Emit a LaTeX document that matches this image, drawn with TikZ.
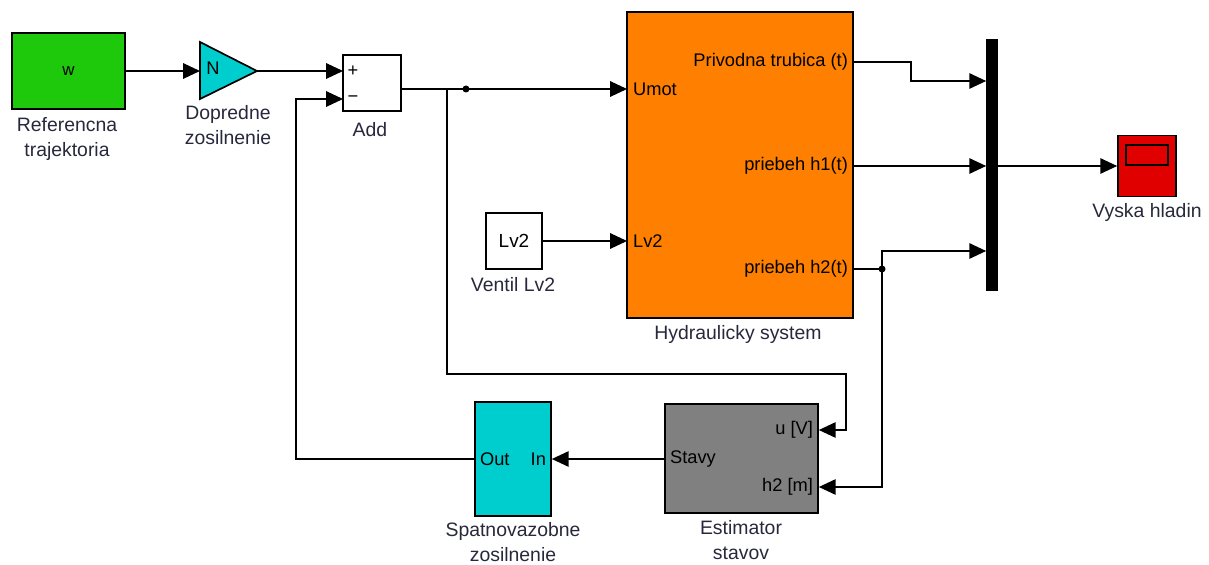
\documentclass[tikz,border=0pt]{standalone}
\usepackage{fontspec}
\setmainfont{Liberation Sans}
\usetikzlibrary{arrows.meta}

\definecolor{refgreen}{RGB}{30,200,10}
\definecolor{gaincyan}{RGB}{0,206,206}
\definecolor{hydorange}{RGB}{255,128,0}
\definecolor{estgray}{RGB}{128,128,128}
\definecolor{scopered}{RGB}{224,0,0}
\definecolor{captext}{RGB}{40,40,60}

\tikzset{
  blk/.style={draw, line width=1.2pt, inner sep=0pt},
  sig/.style={line width=1.1pt, -{Triangle[length=12pt,width=11pt]}},
  wire/.style={line width=1.1pt},
  blkcap/.style={align=center, font=\fontsize{13.8}{17.5}\selectfont, text=captext},
  port/.style={inner sep=2pt, font=\fontsize{13}{15}\selectfont}
}

\begin{document}
\begin{tikzpicture}[x=0.025cm, y=-0.025cm]
\useasboundingbox (0,0) rectangle (1209,565);

% blocks
\node[blk, fill=refgreen, minimum width=2.825cm, minimum height=1.9cm, font=\fontsize{12}{14}\selectfont] (ref) at (68.5,71) {w};
\draw[blk, fill=gaincyan] (200,42) -- (257,71) -- (200,99) -- cycle;
\node[port] (gain) at (213,68) {N};
\coordinate (gin) at (200,71);
\coordinate (gout) at (257,71);
\node[blk, fill=white, minimum width=1.45cm, minimum height=1.4cm] (add) at (372,83) {};
\node[port] (plus) at (353,71) {+};
\node[port] (minus) at (353,99) {−};
\node[blk, fill=hydorange, minimum width=5.65cm, minimum height=7.65cm] (hyd) at (740,165) {};
\node[blk, fill=white, minimum width=1.4cm, minimum height=1.4cm, font=\fontsize{13.5}{15}\selectfont] (lv2) at (514,241) {Lv2};
\node[blk, fill=black, minimum width=0.25cm, minimum height=6.25cm] (bar) at (992,165) {};
\node[blk, fill=scopered, minimum width=1.45cm, minimum height=1.525cm] (scope) at (1147,166) {};
\draw[line width=1pt] (1126,145) rectangle (1168,165);
\node[blk, fill=estgray, minimum width=3.825cm, minimum height=2.725cm] (est) at (741.5,458.5) {};
\node[blk, fill=gaincyan, minimum width=1.9cm, minimum height=2.85cm] (fbk) at (513,459) {};

% port labels
\node[port, anchor=west] (umot) at (630,89) {Umot};
\node[port, anchor=west] (lvin) at (630,241) {Lv2};
\node[port, anchor=east] (trub) at (851,62) {Privodna trubica (t)};
\node[port, anchor=east] (h1) at (851,166) {priebeh h1(t)};
\node[port, anchor=east] (h2) at (851,269) {priebeh h2(t)};
\node[port, anchor=east] (uv) at (816,430) {u [V]};
\node[port, anchor=east] (h2m) at (816,487) {h2 [m]};
\node[port, anchor=west] (stavy) at (667,459) {Stavy};
\node[port, anchor=west] (out) at (477,459) {Out};
\node[port, anchor=east] (in) at (549,459) {In};

% captions
\node[blkcap] (refcap) at (67,139) {Referencna\\trajektoria};
\node[blkcap] (gaincap) at (228,125) {Dopredne\\zosilnenie};
\node[blkcap] (addcap) at (370,130) {Add};
\node[blkcap] (hydcap) at (738,334) {Hydraulicky system};
\node[blkcap] (lv2cap) at (513,285) {Ventil Lv2};
\node[blkcap] (scopecap) at (1147,212) {Vyska hladin};
\node[blkcap] (fbkcap) at (513,542) {Spatnovazobne\\zosilnenie};
\node[blkcap] (estcap) at (741,540) {Estimator\\stavov};

% connectors
\coordinate (addp) at (343,71);
\coordinate (addm) at (343,99);
\coordinate (addo) at (401,89);
\coordinate (umotin) at (627,89);
\coordinate (lv2in) at (627,241);
\coordinate (branch) at (447,89);
\coordinate (hdot) at (882,269);

\draw[sig] (ref.east |- gin) -- (gin);
\draw[sig] (gout) -- (addp);
\draw[sig] (addo) -- (umotin);
\fill (466,89) circle (3.5);
\draw[sig] (branch) -- (447,374) -- (846,374) -- (846,430) -- (est.east |- uv);
\draw[sig] (lv2.east) -- (lv2in);
\draw[sig] (hyd.east |- trub) -- (911,62) -- (911,81) -- (bar.west |- 0,81);
\draw[sig] (hyd.east |- h1) -- (bar.west |- h1);
\draw[wire] (hyd.east |- h2) -- (hdot);
\fill (hdot) circle (3.5);
\draw[sig] (hdot) -- (882,251) -- (bar.west |- 0,251);
\draw[sig] (hdot) -- (882,487) -- (est.east |- h2m);
\draw[sig] (bar.east |- scope) -- (scope.west);
\draw[sig] (est.west |- stavy) -- (fbk.east |- in);
\draw[sig] (fbk.west |- out) -- (296,459) -- (296,99) -- (addm);

\end{tikzpicture}
\end{document}
